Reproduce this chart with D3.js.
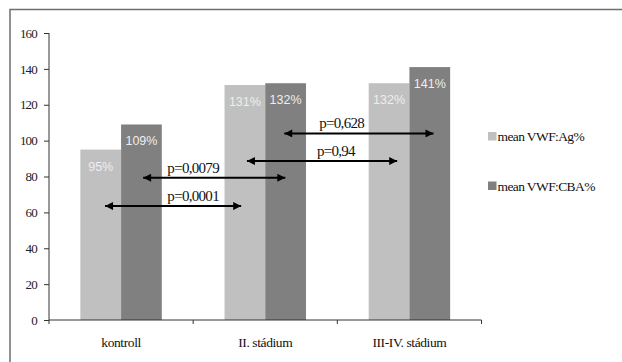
<!DOCTYPE html>
<html><head><meta charset="utf-8">
<script src="https://cdn.jsdelivr.net/npm/d3@7"></script>
<style>body{margin:0;background:#fff}svg{display:block}</style>
</head><body><svg id="c" width="622" height="362"></svg>
<script>
const categories = ["kontroll", "II. stádium", "III-IV. stádium"];
const seriesNames = ["mean VWF:Ag%", "mean VWF:CBA%"];
const agValues = [95, 131, 132];
const cbaValues = [109, 132, 141];
const yTicks = [0, 20, 40, 60, 80, 100, 120, 140, 160];
// comparison arrows: y value, start/end in category units, label position in category units
const pLabels = ["p=0,0001", "p=0,0079", "p=0,94", "p=0,628"];
const pY = [63.5, 79.3, 88.6, 104];
const pFrom = [0.389, 0.653, 1.373, 1.632];
const pTo = [1.333, 1.639, 2.415, 2.667];
const pLabelAt = [1.0, 1.0, 1.99, 2.03];

const colors = ["#c0c0c0", "#808080"];
const svg = d3.select("#c");
const m = {l: 49, t: 33, r: 481.5, b: 320};
const serif = "Liberation Serif, Times New Roman, serif";

// frame
svg.append("path").attr("d", "M10,362 V9.5 H622").attr("fill", "none")
  .attr("stroke", "#6e6e6e").attr("stroke-width", 1.5);

const x = d3.scaleBand().domain(categories).range([m.l, m.r]).paddingInner(0).paddingOuter(0);
const xc = d3.scaleLinear().domain([0, categories.length]).range([m.l, m.r]);
const y = d3.scaleLinear().domain([0, 160]).range([m.b, m.t]);
const inner = d3.scaleBand().domain(seriesNames).range([0, x.bandwidth()]).paddingOuter(0.77).paddingInner(0);

// bars
const data = categories.map((c, i) => ({c, vals: [agValues[i], cbaValues[i]]}));
const g = svg.selectAll("g.grp").data(data).join("g").attr("class", "grp").attr("transform", d => `translate(${x(d.c)},0)`);
g.selectAll("rect").data(d => d.vals.map((v, j) => ({v, s: seriesNames[j], j})))
  .join("rect").attr("x", d => inner(d.s)).attr("width", inner.bandwidth())
  .attr("y", d => y(d.v)).attr("height", d => y(0) - y(d.v)).attr("fill", d => colors[d.j]);
g.selectAll("text").data(d => d.vals.map((v, j) => ({v, s: seriesNames[j]})))
  .join("text").attr("x", d => inner(d.s) + inner.bandwidth() / 2).attr("y", d => y(d.v) + 21)
  .attr("text-anchor", "middle").attr("font-family", "Liberation Sans, Arial, sans-serif")
  .attr("font-size", 12.5).attr("fill", "#eeeeee").text(d => d.v + "%");

// axes
const ya = svg.append("g").attr("transform", `translate(${m.l},0)`)
  .call(d3.axisLeft(y).tickValues(yTicks).tickSize(5).tickPadding(7));
ya.select(".domain").attr("stroke", "#333").attr("d", `M0,${m.t}V${m.b}`);
ya.selectAll(".tick line").attr("stroke", "#333");
ya.selectAll(".tick text").attr("font-family", serif)
  .attr("font-size", 13).attr("fill", "#222").attr("letter-spacing", -0.8);

const xa = svg.append("g").attr("transform", `translate(0,${m.b})`);
xa.append("line").attr("x1", m.l).attr("x2", m.r).attr("stroke", "#333");
xa.selectAll("line.tk").data(d3.range(categories.length + 1)).join("line").attr("class", "tk")
  .attr("x1", d => xc(d)).attr("x2", d => xc(d)).attr("y1", 0).attr("y2", 4).attr("stroke", "#333");
xa.selectAll("text").data(categories).join("text")
  .attr("x", d => x(d) + x.bandwidth() / 2).attr("y", 27).attr("text-anchor", "middle")
  .attr("font-family", serif).attr("font-size", 13.5).attr("fill", "#111")
  .attr("letter-spacing", -0.4).text(d => d);

// arrows
const defs = svg.append("defs");
defs.append("marker").attr("id", "ah").attr("viewBox", "0 0 10 10").attr("refX", 10).attr("refY", 5)
  .attr("markerWidth", 12).attr("markerHeight", 8).attr("markerUnits", "userSpaceOnUse")
  .attr("orient", "auto-start-reverse").append("path").attr("d", "M0,0L10,5L0,10Z").attr("fill", "#000");
const ann = svg.append("g");
pLabels.forEach((lbl, i) => {
  ann.append("line").attr("x1", xc(pFrom[i])).attr("x2", xc(pTo[i])).attr("y1", y(pY[i])).attr("y2", y(pY[i]))
    .attr("stroke", "#000").attr("stroke-width", 2)
    .attr("marker-start", "url(#ah)").attr("marker-end", "url(#ah)");
  ann.append("text").attr("x", xc(pLabelAt[i])).attr("y", y(pY[i]) - 5).attr("text-anchor", "middle")
    .attr("font-family", serif).attr("font-size", 15).attr("fill", "#111")
    .attr("letter-spacing", -0.7).text(lbl);
});

// legend
const lg = svg.append("g").attr("transform", "translate(488,132)");
const li = lg.selectAll("g").data(seriesNames).join("g").attr("transform", (d, i) => `translate(0,${i * 49.5})`);
li.append("rect").attr("width", 8.5).attr("height", 8.5).attr("fill", (d, i) => colors[i]);
li.append("text").attr("x", 9.5).attr("y", 9).attr("font-family", serif)
  .attr("font-size", 13.5).attr("fill", "#111").attr("letter-spacing", -0.6).text(d => d);
</script></body></html>
